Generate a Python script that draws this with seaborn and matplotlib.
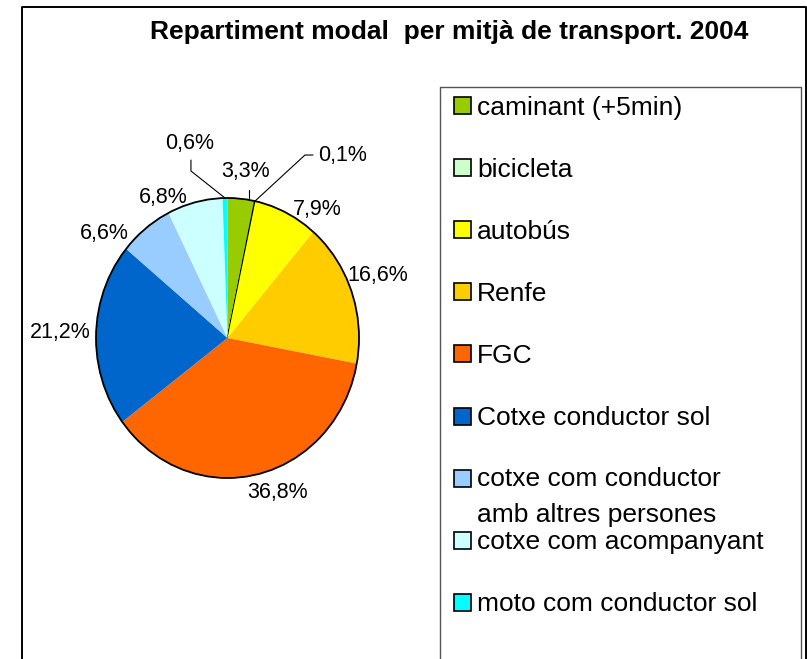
import matplotlib
matplotlib.use("Agg")
import matplotlib.pyplot as plt
from matplotlib.patches import Rectangle, Ellipse
from matplotlib.lines import Line2D
import numpy as np
import seaborn as sns

# ---------------- data ----------------
categories = [
    "caminant (+5min)",
    "bicicleta",
    "autobús",
    "Renfe",
    "FGC",
    "Cotxe conductor sol",
    "cotxe com conductor\namb altres persones",
    "cotxe com acompanyant",
    "moto com conductor sol",
]
values = [3.3, 0.1, 7.9, 16.6, 36.8, 21.2, 6.6, 6.8, 0.6]
title = "Repartiment modal  per mitjà de transport. 2004"

# ---------------- style ----------------
colors = sns.color_palette(["#99CC00", "#CCFFCC", "#FFFF00", "#FFCC00", "#FF6600",
                            "#0066CC", "#99CCFF", "#CCFFFF", "#00FFFF"])
sns.set_theme(style="white")
plt.rcParams["font.family"] = ["Liberation Sans", "DejaVu Sans"]

W, H = 807, 659
fig = plt.figure(figsize=(W / 100, H / 100), dpi=100)
fig.patch.set_facecolor("white")

def fx(px):
    return px / W

def fy(py):
    return 1 - py / H

# outer chart border (bottom edge cut off)
fig.add_artist(Line2D([fx(22), fx(22), fx(806), fx(806)], [fy(700), fy(7), fy(7), fy(700)],
                      transform=fig.transFigure, color="black", lw=1.4))
# legend box (bottom edge cut off)
fig.add_artist(Line2D([fx(440), fx(440), fx(801), fx(801)], [fy(700), fy(87), fy(87), fy(700)],
                      transform=fig.transFigure, color="#555555", lw=1.0))

fig.text(fx(449), fy(32), title, ha="center", va="center", fontsize=19,
         fontweight="bold", color="black")

# ---------------- pie ----------------
cx, cy, rx, ry = 227.5, 338, 131.5, 140
ax = fig.add_axes([fx(cx - rx), fy(cy + ry), 2 * rx / W, 2 * ry / H])
wedges, _ = ax.pie(values, colors=colors, startangle=90, counterclock=False,
                   radius=1.0, wedgeprops=dict(linewidth=0, edgecolor="none"))
wedges[1].set_edgecolor("black")
wedges[1].set_linewidth(0.8)
ax.set_aspect("auto")
ax.set_xlim(-1, 1)
ax.set_ylim(-1, 1)
ax.axis("off")
ax.add_patch(Ellipse((0, 0), 2, 2, fill=False, edgecolor="black", lw=1.3, clip_on=False))

# label positions (pie units)
label_pos = [(0.14, 1.186), (0.875, 1.307), (0.680, 0.921), (1.144, 0.443),
             (0.380, -1.107), (-1.274, 0.036), (-0.939, 0.743), (-0.490, 1.007),
             (-0.285, 1.386)]
for v, (lx, ly) in zip(values, label_pos):
    ax.text(lx, ly, f"{v:.1f}%".replace(".", ","), ha="center", va="center",
            fontsize=15.5, color="black", clip_on=False)

# leader lines
total = sum(values)
cum = np.cumsum([0] + values)
mid = [np.deg2rad(360 * (cum[i] + values[i] / 2) / total) for i in range(len(values))]
# bicicleta (0,1%)
a = mid[1]
ax.plot([np.sin(a), 0.589, 0.650], [np.cos(a), 1.307, 1.307], color="black", lw=0.8, clip_on=False)
# moto (0,6%)
a = mid[8]
ax.plot([np.sin(a), -0.278, -0.278], [np.cos(a), 1.193, 1.271], color="black", lw=0.8, clip_on=False)
# caminant (3,3%)
ax.plot([0.163, 0.163], [1.0, 1.06], color="black", lw=0.8, clip_on=False)

# ---------------- legend (manual) ----------------
row0, pitch, line_px = 105, 62.1, 35
for i, (lab, col) in enumerate(zip(categories, colors)):
    yc = row0 + pitch * i
    extra = lab.count("\n") * line_px
    fig.add_artist(Rectangle((fx(453.5), fy(yc + 9)), 17 / W, 17 / H, transform=fig.transFigure,
                             facecolor=col, edgecolor="black", lw=1.2))
    fig.text(fx(477), fy(yc + 9.5 + extra), lab, ha="left", va="baseline", fontsize=19,
             color="black", linespacing=1.66)

fig.savefig("out.png", dpi=100, facecolor="white")
